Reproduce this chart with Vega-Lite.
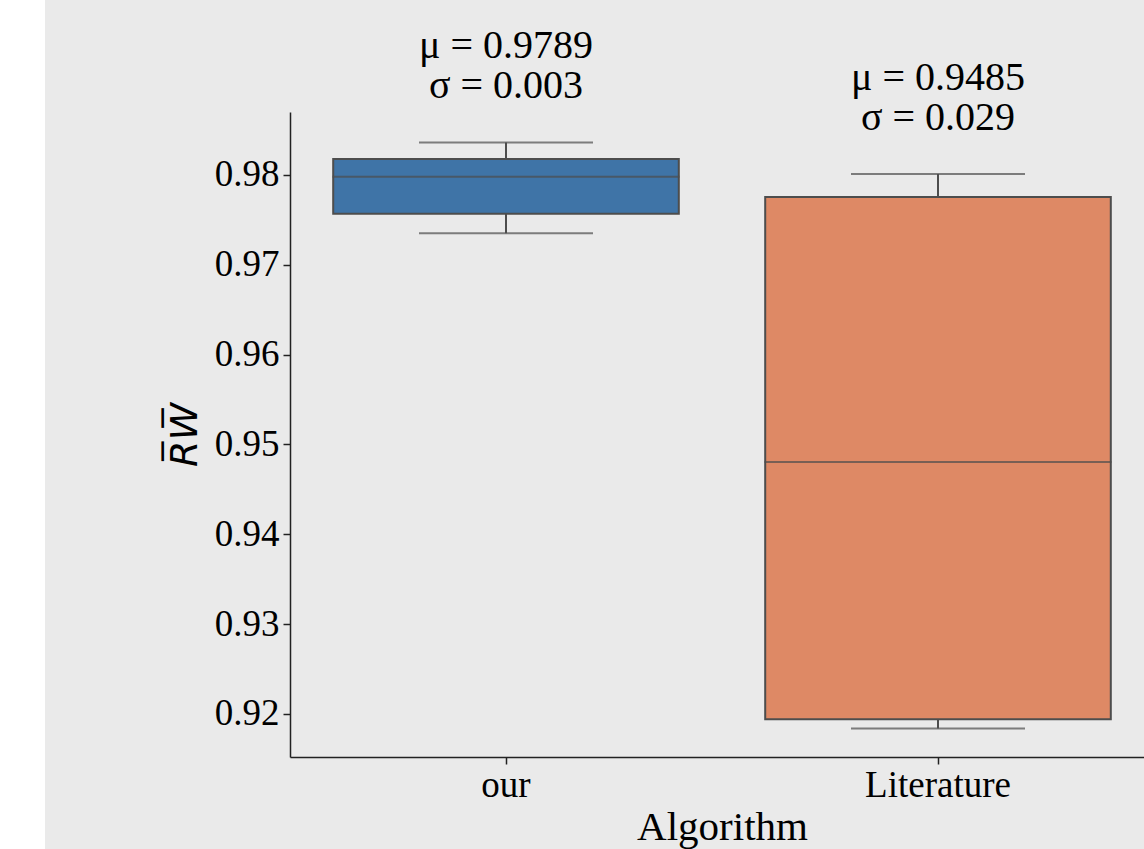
{
  "$schema": "https://vega.github.io/schema/vega-lite/v6.json",
  "autosize": "none",
  "width": 1099,
  "height": 849,
  "padding": {"left": 45, "top": 0, "right": 0, "bottom": 0},
  "background": "white",
  "view": {"fill": "#EAEAEA", "stroke": null},
  "data": {
    "values": [
      {"Algorithm": "our", "lower": 0.97352, "q1": 0.97568, "median": 0.9798, "q3": 0.98178, "upper": 0.98362, "label": ["μ = 0.9789", "σ = 0.003"]},
      {"Algorithm": "Literature", "lower": 0.91838, "q1": 0.91942, "median": 0.94805, "q3": 0.97755, "upper": 0.98011, "label": ["μ = 0.9485", "σ = 0.029"]}
    ]
  },
  "config": {
    "font": "Liberation Serif",
    "axis": {"grid": false, "labelColor": "black", "titleColor": "black", "domainColor": "#222222", "tickColor": "#222222", "domainWidth": 1.5, "tickWidth": 1.5, "tickSize": 7, "titleFontWeight": "normal"}
  },
  "encoding": {
    "x": {
      "field": "Algorithm", "type": "nominal", "sort": ["our", "Literature"],
      "scale": {"range": [245, 1109], "paddingInner": 0, "paddingOuter": 0},
      "axis": {"offset": -92, "labelAngle": 0, "labelFont": "Liberation Serif", "labelFontSize": 37, "labelPadding": 3, "title": "Algorithm", "titleFont": "Liberation Serif", "titleFontSize": 41, "titlePadding": 4}
    }
  },
  "layer": [
    {
      "mark": {"type": "rule", "color": "#4D4D4D", "strokeWidth": 2},
      "encoding": {
        "y": {"field": "lower", "type": "quantitative", "scale": {"domain": [0.91521, 0.98701], "range": [757, 112], "zero": false, "nice": false},
          "axis": {"offset": -245, "values": [0.92, 0.93, 0.94, 0.95, 0.96, 0.97, 0.98], "format": ".2f", "labelFont": "Liberation Serif", "labelFontSize": 37, "labelPadding": 4, "title": "R̅W̅", "titleFont": "DejaVu Sans", "titleFontStyle": "italic", "titleFontSize": 38, "titlePadding": 10}},
        "y2": {"field": "upper"}
      }
    },
    {
      "mark": {"type": "bar", "stroke": "#4D4D4D", "strokeWidth": 2, "width": {"band": 0.8}},
      "encoding": {
        "y": {"field": "q1", "type": "quantitative"},
        "y2": {"field": "q3"},
        "color": {"field": "Algorithm", "type": "nominal", "scale": {"domain": ["our", "Literature"], "range": ["#3F74A7", "#DE8965"]}, "legend": null}
      }
    },
    {
      "mark": {"type": "tick", "color": "#4D4D4D", "size": 347, "thickness": 2, "orient": "horizontal"},
      "encoding": {"y": {"field": "median", "type": "quantitative"}}
    },
    {
      "mark": {"type": "tick", "color": "#4D4D4D", "size": 174, "thickness": 2, "orient": "horizontal"},
      "encoding": {"y": {"field": "lower", "type": "quantitative"}}
    },
    {
      "mark": {"type": "tick", "color": "#4D4D4D", "size": 174, "thickness": 2, "orient": "horizontal"},
      "encoding": {"y": {"field": "upper", "type": "quantitative"}}
    },
    {
      "mark": {"type": "text", "font": "Liberation Serif", "fontSize": 40, "color": "black", "baseline": "bottom", "align": "center", "lineHeight": 40, "dy": -76},
      "encoding": {"y": {"field": "upper", "type": "quantitative"}, "text": {"field": "label"}}
    }
  ]
}
